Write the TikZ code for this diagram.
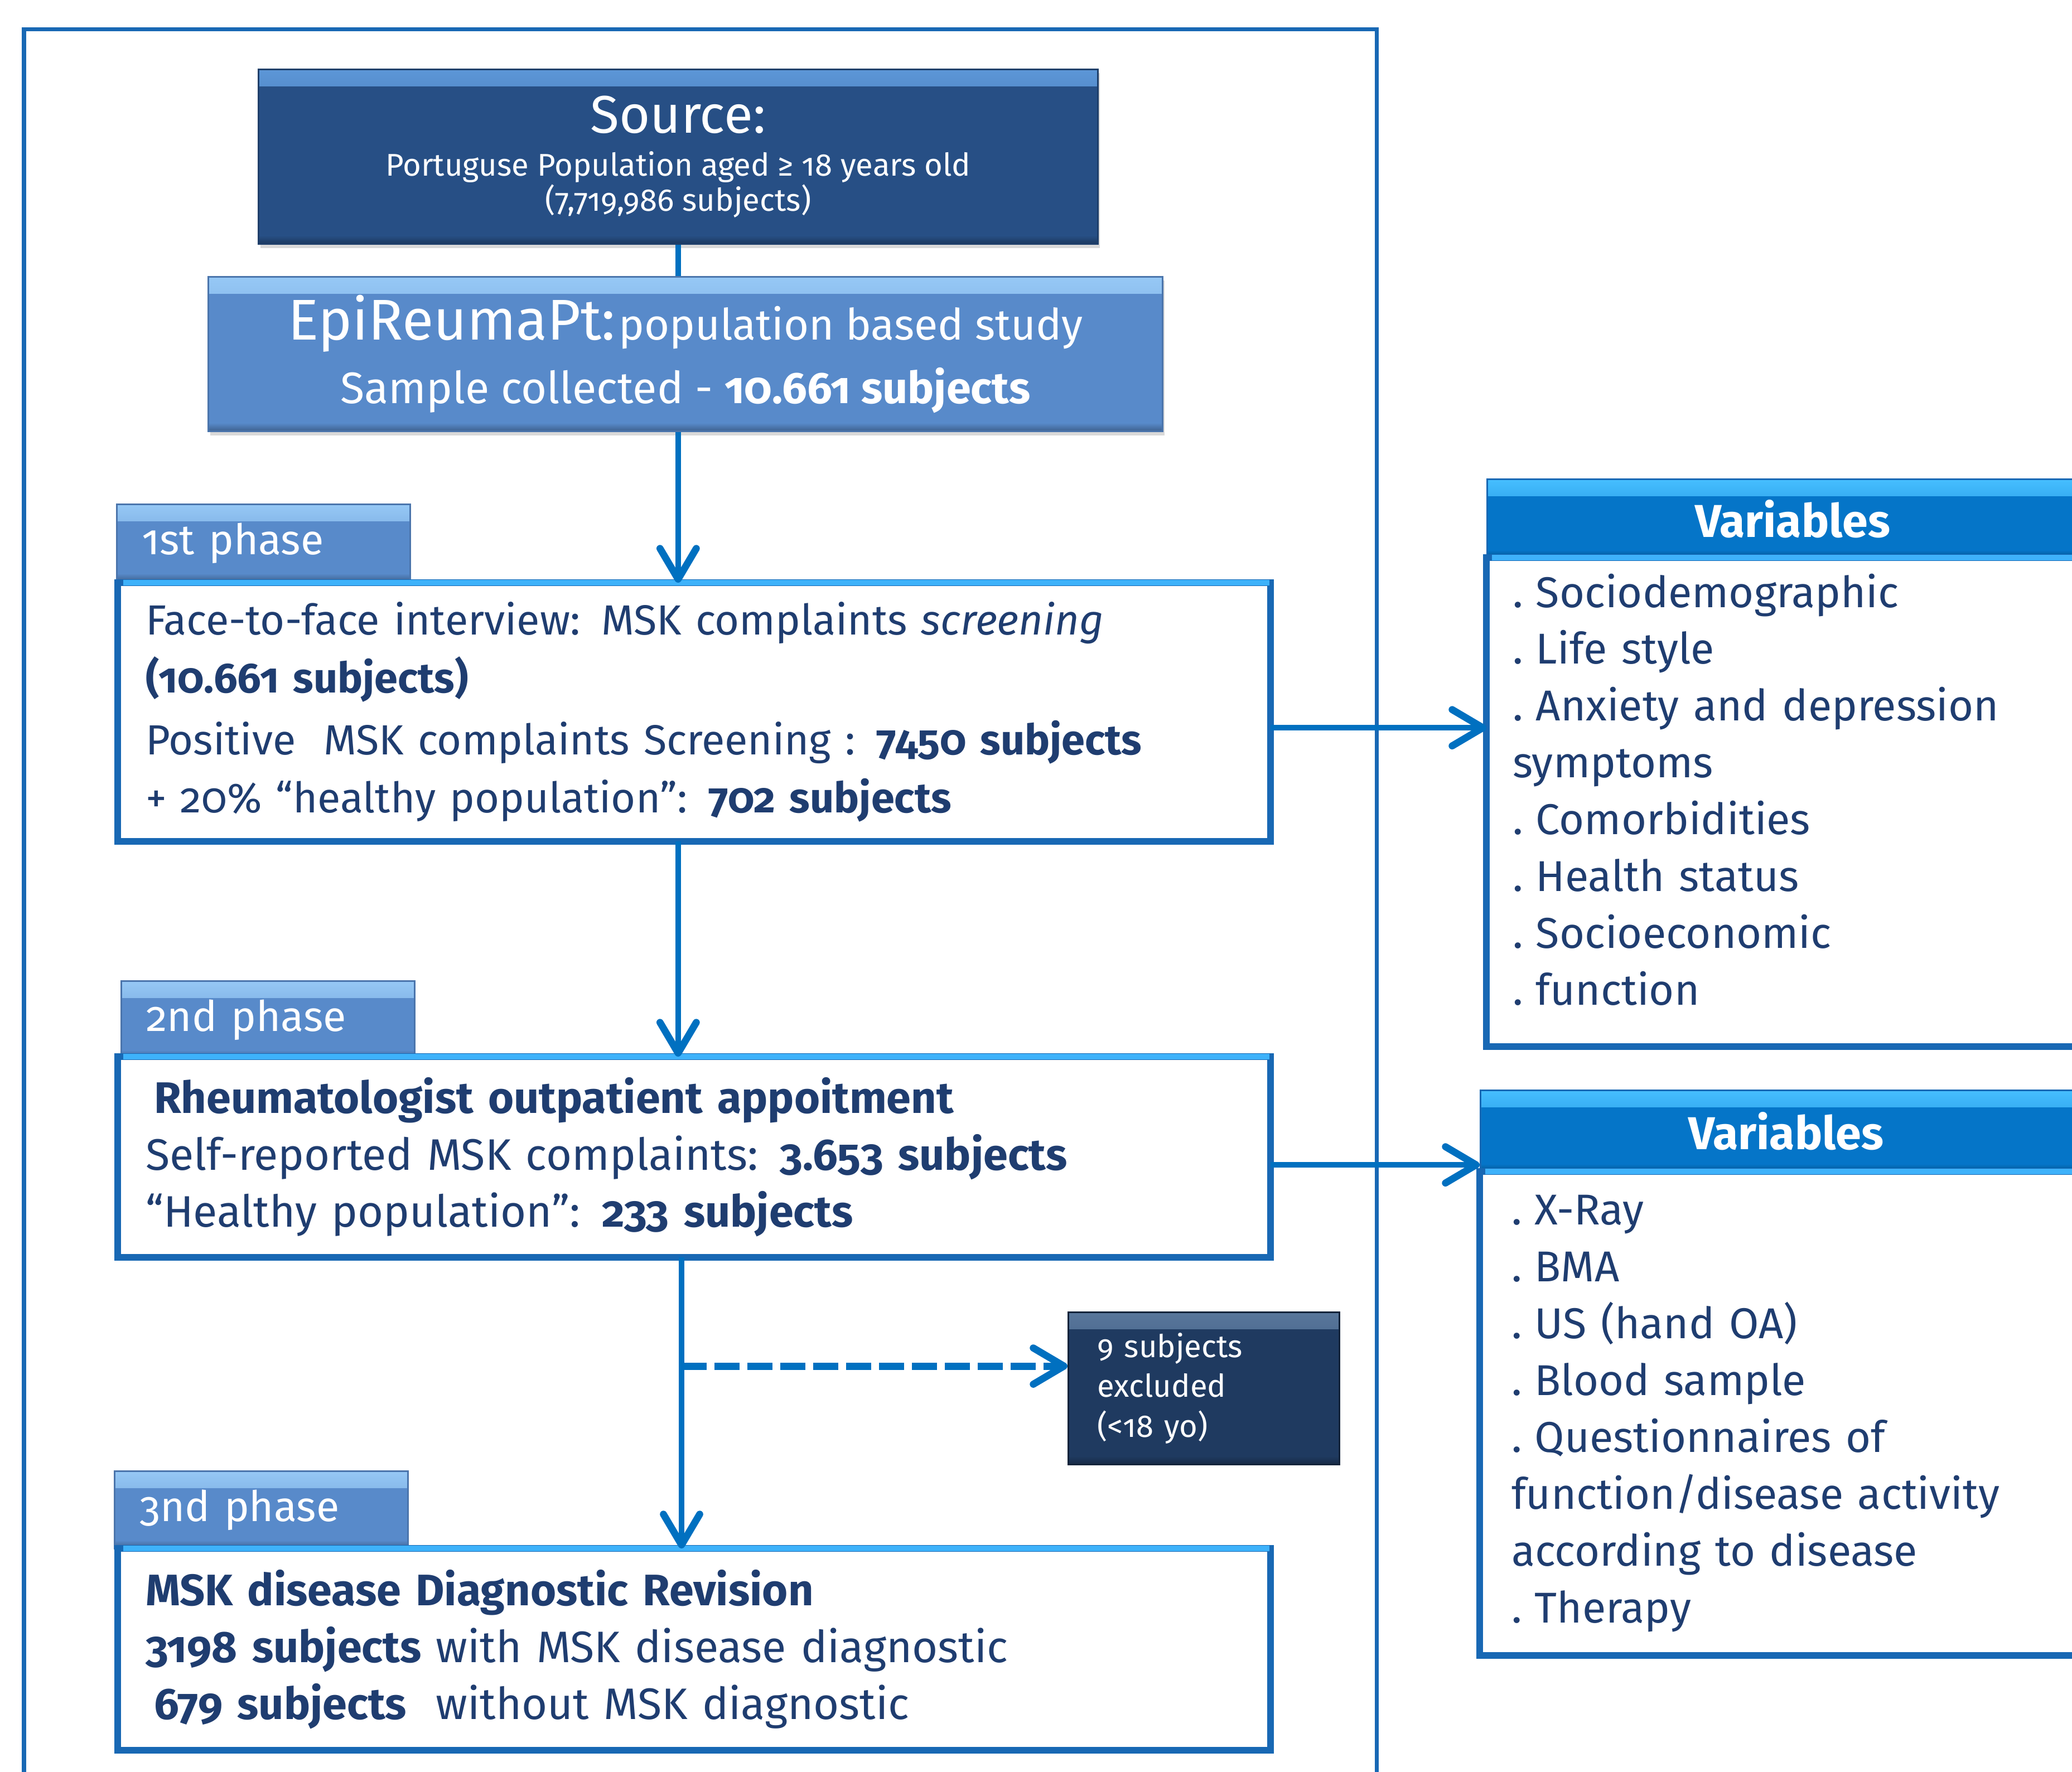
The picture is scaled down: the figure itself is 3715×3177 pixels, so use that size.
\documentclass[tikz,border=0pt]{standalone}
\usepackage{fontspec}
\setmainfont{Fira Sans}[Numbers=OldStyle]
\usetikzlibrary{arrows.meta,shadows}

\definecolor{srcblue}{RGB}{39,79,133}
\definecolor{srctop}{RGB}{92,150,215}
\definecolor{epiblue}{RGB}{88,138,202}
\definecolor{epitop}{RGB}{150,200,245}
\definecolor{lineblue}{RGB}{0,112,192}
\definecolor{boxblue}{RGB}{24,104,180}
\definecolor{edgelight}{RGB}{62,178,250}
\definecolor{navy}{RGB}{31,61,112}
\definecolor{exclnavy}{RGB}{31,58,96}
\definecolor{excltop}{RGB}{88,118,155}
\definecolor{headblue}{RGB}{5,117,200}
\definecolor{headtop}{RGB}{70,190,255}

\newcommand{\lowstrut}{\rule[-0.45cm]{0pt}{0.45cm}}
\newcommand{\itm}{.\hspace{0.3em}}

\tikzset{bevel/.style 2 args={fill=#1,path picture={
    \shade[top color=#2,bottom color=#1] (path picture bounding box.north west)
      rectangle ([yshift=-0.3cm]path picture bounding box.north east);
    \shade[top color=#1,bottom color=#1!70!black] ([yshift=0.15cm]path picture bounding box.south west)
      rectangle (path picture bounding box.south east);}}}

\begin{document}
\begin{tikzpicture}[x=0.01cm,y=-0.01cm,
                    >={Straight Barb[length=5.5mm,width=6.5mm,line width=3.6pt,round]},
                    line width=2.8pt]
  \tikzstyle{topbox}=[anchor=north west,text=white,align=center,line width=0.8pt,
    drop shadow={opacity=0.3,shadow xshift=0.04cm,shadow yshift=-0.07cm}]
  \tikzstyle{phasetab}=[anchor=north west,bevel={epiblue}{epitop},draw=epiblue!85!black,
    line width=0.8pt,text=white,text width=4.36cm,inner xsep=0.45cm,minimum height=1.39cm,
    align=left,font=\fontsize{21.5}{26}\selectfont]
  \tikzstyle{phasebox}=[anchor=north west,fill=white,draw=boxblue,line width=3.4pt,outer sep=0pt,
    text=navy,text width=19.66cm,inner xsep=0.5cm,align=left]
  \tikzstyle{varhead}=[anchor=north west,bevel={headblue}{headtop},draw=boxblue,line width=0.8pt,
    text=white,minimum width=10.95cm,font=\fontsize{23.5}{28}\selectfont\bfseries]
  \tikzstyle{varbox}=[phasebox,text width=9.9cm,inner xsep=0.47cm,
    font=\fontsize{22}{29}\selectfont]
  \tikzstyle{link}=[draw=lineblue,line width=2.8pt]

  \useasboundingbox (0,0) rectangle (3715,3177);
  \draw[boxblue,line width=2pt] (43,3200) -- (43,52) -- (2468,52) -- (2468,3200);

  \node[topbox,bevel={srcblue}{srctop},draw=srcblue!80!black,minimum width=15.04cm,minimum height=3.13cm]
    (src) at (462,123)
    {{\fontsize{27}{30}\selectfont Source:}\\[8pt]
     {\fontsize{16}{25}\selectfont Portuguse Population aged ≥ 18 years old}\\
     {\fontsize{16}{25}\selectfont (7,719,986 subjects)}};
  \node[topbox,bevel={epiblue}{epitop},draw=epiblue!85!black,minimum width=17.10cm,minimum height=2.77cm]
    (epi) at (372,495)
    {{\fontsize{29.3}{32}\selectfont EpiReumaPt:}\,{\fontsize{22}{26}\selectfont population based study}\\[7pt]
     {\fontsize{22.5}{26}\selectfont Sample collected - \textbf{10.661 subjects}}};

  \node[phasetab] (ph1tab) at (208,903) {1st phase};
  \node[phasebox,minimum height=4.64cm,font=\fontsize{21.5}{29.6}\selectfont] (ph1) at (211,1045)
    {Face-to-face interview: MSK complaints \textit{screening}\\
     \textbf{(10.661 subjects)}\\[2pt]
     Positive~ MSK complaints Screening : \textbf{7450 subjects}\\
     + 20\% “healthy population”: \textbf{702 subjects}};

  \node[phasetab] (ph2tab) at (216,1758) {2nd phase};
  \node[phasebox,minimum height=3.60cm,font=\fontsize{22.5}{29}\selectfont] (ph2) at (211,1895)
    {\hspace{0.15cm}\textbf{Rheumatologist outpatient appoitment}\\
     Self-reported MSK complaints: \textbf{3.653 subjects}\\
     “Healthy population”: \textbf{233 subjects}};

  \node[anchor=north west,bevel={exclnavy}{excltop},draw=exclnavy!60!black,line width=0.8pt,text=white,
    text width=3.82cm,inner xsep=0.52cm,minimum height=2.73cm,align=left,
    font=\fontsize{16}{20.2}\selectfont] (excl) at (1914,2352)
    {9 subjects\\ excluded\\ (<18 yo)};

  \node[phasetab] (ph3tab) at (204,2637) {3nd phase};
  \node[phasebox,minimum height=3.62cm,font=\fontsize{22.5}{29}\selectfont] (ph3) at (211,2777)
    {\textbf{MSK disease Diagnostic Revision}\\
     \textbf{3198 subjects} with MSK disease diagnostic\\
     \hspace{0.15cm}\textbf{679 subjects}~ without MSK diagnostic};

  \node[varhead,minimum height=1.42cm] (var1head) at (2665,858) {Variables};
  \node[varbox,minimum height=8.76cm] (var1) at (2665,1000)
    {\itm Sociodemographic\\ \itm Life style\\
     \itm Anxiety and depression\\ symptoms\\
     \itm Comorbidities\\ \itm Health status\\
     \itm Socioeconomic\\ \itm function\lowstrut};

  \node[varhead,minimum height=1.47cm] (var2head) at (2653,1954) {Variables};
  \node[varbox,minimum height=8.67cm,inner xsep=0.57cm] (var2) at (2653,2101)
    {\itm X-Ray\\ \itm BMA\\ \itm US (hand OA)\\
     \itm Blood sample\\ \itm Questionnaires of\\
     function/disease activity\\ according to disease\\ \itm Therapy};

  \foreach \b in {ph1,ph2,ph3,var1,var2}
    \draw[edgelight,line width=3pt] ([xshift=0.1cm]\b.north west) -- ([xshift=-0.02cm]\b.north east);

  \coordinate (spine) at (1222,2450);

  \path[link] (src.south) edge (src.south |- epi.north)
        (src.south |- epi.south) edge[->] (src.south |- ph1.north)
        (src.south |- ph1.south) edge[->] (src.south |- ph2.north)
        (spine |- ph2.south) edge[->] (spine |- ph3.north)
        (spine) edge[->,line width=3.7pt,dash pattern=on 0.45cm off 0.14cm] (spine -| excl.west)
        ([yshift=-0.28cm]ph1.east) edge[->] ([yshift=-0.28cm]ph1.east -| var1.west)
        ([yshift=-0.14cm]ph2.east) edge[->] ([yshift=-0.14cm]ph2.east -| var2head.west);
\end{tikzpicture}
\end{document}
